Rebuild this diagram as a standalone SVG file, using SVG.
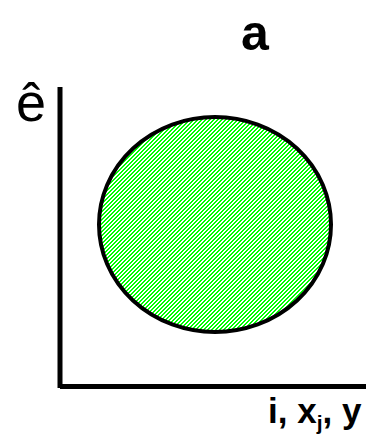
<svg xmlns="http://www.w3.org/2000/svg" width="372" height="437" viewBox="0 0 372 437">
<style>
.lbl{font-family:"Liberation Sans",Arial,sans-serif;fill:#000}
.b{font-weight:bold}
.ax{stroke:#000;stroke-width:5;fill:none}
.px{fill:#00ff00}
</style>
<defs>
<pattern id="hatch" patternUnits="userSpaceOnUse" width="4" height="4" shape-rendering="crispEdges">
<rect width="4" height="4" fill="#fff"/>
<rect class="px" x="0" y="0" width="2" height="1"/>
<rect class="px" x="0" y="1" width="1" height="1"/>
<rect class="px" x="3" y="1" width="1" height="1"/>
<rect class="px" x="2" y="2" width="2" height="1"/>
<rect class="px" x="1" y="3" width="2" height="1"/>
</pattern>
</defs>
<g id="region">
<ellipse cx="215" cy="224.5" rx="116" ry="107.5" fill="url(#hatch)" stroke="#000" stroke-width="4"/>
</g>
<g id="axes">
<path class="ax" d="M60,87 V388"/>
<path class="ax" d="M60,386.5 H366"/>
</g>
<g id="labels">
<text class="lbl b" x="241" y="50" font-size="50">a</text>
<text class="lbl" x="16" y="121" font-size="54">ê</text>
<text class="lbl b" x="268" y="423" font-size="35">i, x<tspan font-size="21" dy="7">j</tspan><tspan dy="-7">, y</tspan></text>
</g>
</svg>
